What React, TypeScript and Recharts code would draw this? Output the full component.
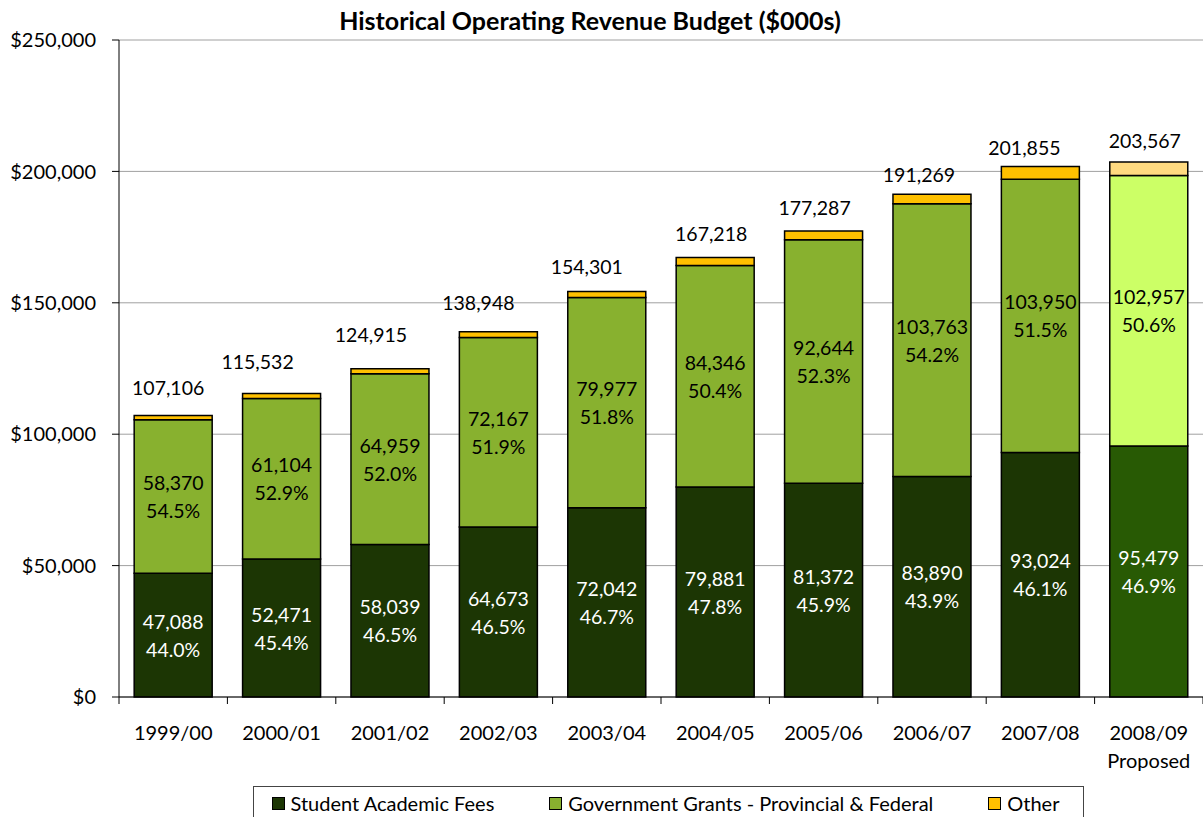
import React from 'react';
import { BarChart, Bar, XAxis, YAxis, CartesianGrid, Legend, LabelList, Cell } from 'recharts';

// ---------- data ----------
const categories = ['1999/00', '2000/01', '2001/02', '2002/03', '2003/04', '2004/05', '2005/06', '2006/07', '2007/08', '2008/09'];
const categorySubLabels = ['', '', '', '', '', '', '', '', '', 'Proposed'];
const studentFees = [47088, 52471, 58039, 64673, 72042, 79881, 81372, 83890, 93024, 95479];
const govGrants = [58370, 61104, 64959, 72167, 79977, 84346, 92644, 103763, 103950, 102957];
const otherRevenue = [1648, 1957, 1917, 2108, 2282, 2991, 3271, 3616, 4881, 5131];
const totals = [107106, 115532, 124915, 138948, 154301, 167218, 177287, 191269, 201855, 203567];
const studentPct = ['44.0%', '45.4%', '46.5%', '46.5%', '46.7%', '47.8%', '45.9%', '43.9%', '46.1%', '46.9%'];
const govPct = ['54.5%', '52.9%', '52.0%', '51.9%', '51.8%', '50.4%', '52.3%', '54.2%', '51.5%', '50.6%'];
const yTicks = [0, 50000, 100000, 150000, 200000, 250000];
const seriesNames = ['Student Academic Fees', 'Government Grants - Provincial & Federal', 'Other'];

// ---------- styles ----------
const FONT = "Lato, 'Open Sans', sans-serif";
const FS = 20;
const FS_IN = 19.5;
const CHART_W = 1203;
const CHART_H = 817;
const Y_AXIS_W = 119;
const HALF_BAND = (CHART_W - Y_AXIS_W) / categories.length / 2;
const COLORS = { student: '#1c3604', gov: '#88b12f', other: '#ffc000' };
const PROPOSED = { student: '#285a04', gov: '#ccff66', other: '#ffda80' };
// hand-placed total label nudges (dx, dy above the bar top)
const TOTAL_LABEL_DX = [-5, -24, -19, -20, -20, -4, -9, -13, -16, -4];
const TOTAL_LABEL_DY = [28, 32, 34, 29, 25, 24, 24, 20, 19, 22];

const data = categories.map((c, i) => ({
  category: c,
  student: studentFees[i],
  gov: govGrants[i],
  other: otherRevenue[i],
  total: totals[i],
}));

const fmt = (v: number) => v.toLocaleString('en-US');
const isProposed = (i: number) => i === categories.length - 1;

const makeInner = (values: number[], pcts: string[], color: string) => (props: any) => {
  const { x, y, width, height, index } = props;
  const cx = Number(x) + Number(width) / 2;
  const cy = Number(y) + Number(height) / 2;
  return (
    <g>
      <text x={cx} y={cy - 14} textAnchor="middle" dominantBaseline="central" fill={color} fontSize={FS_IN} fontFamily={FONT}>
        {fmt(values[index])}
      </text>
      <text x={cx} y={cy + 14} textAnchor="middle" dominantBaseline="central" fill={color} fontSize={FS_IN} fontFamily={FONT}>
        {pcts[index]}
      </text>
    </g>
  );
};

const TotalLabel = (props: any) => {
  const { x, y, width, index } = props;
  const cx = Number(x) + Number(width) / 2 + TOTAL_LABEL_DX[index];
  return (
    <text x={cx} y={Number(y) - TOTAL_LABEL_DY[index]} textAnchor="middle" dominantBaseline="central" fill="#000" fontSize={FS_IN} fontFamily={FONT}>
      {fmt(totals[index])}
    </text>
  );
};

const XTick = (props: any) => {
  const { x, y, payload } = props;
  const index = payload?.index ?? props.index;
  const sub = categorySubLabels[index];
  return (
    <g>
      <line x1={x - HALF_BAND} x2={x - HALF_BAND} y1={y} y2={y + 7} stroke="#000" strokeWidth={1} />
      {index === categories.length - 1 && (
        <line x1={x + HALF_BAND} x2={x + HALF_BAND} y1={y} y2={y + 7} stroke="#000" strokeWidth={1} />
      )}
      <text x={x} y={y + 35} textAnchor="middle" dominantBaseline="central" fill="#000" fontSize={FS} fontFamily={FONT}>
        {payload.value}
      </text>
      {sub ? (
        <text x={x} y={y + 63} textAnchor="middle" dominantBaseline="central" fill="#000" fontSize={FS} fontFamily={FONT}>
          {sub}
        </text>
      ) : null}
    </g>
  );
};

const LegendBox = () => {
  const swatches = [COLORS.student, COLORS.gov, COLORS.other];
  return (
    <div
      style={{
        boxSizing: 'border-box',
        width: 831,
        height: 40,
        border: '1px solid #444',
        background: '#fff',
        display: 'flex',
        alignItems: 'center',
        justifyContent: 'center',
        gap: 55,
        paddingBottom: 6,
        paddingRight: 6,
        fontFamily: FONT,
        fontSize: FS,
        color: '#000',
      }}
    >
      {seriesNames.map((n, i) => (
        <div key={n} style={{ display: 'flex', alignItems: 'center', whiteSpace: 'nowrap' }}>
          <span
            style={{
              display: 'inline-block',
              width: 11,
              height: 11,
              background: swatches[i],
              border: '1px solid #000',
              marginRight: 6,
            }}
          />
          <span>{n}</span>
        </div>
      ))}
    </div>
  );
};

export default function App() {
  return (
    <div style={{ position: 'fixed', left: 0, top: 0, width: CHART_W, height: CHART_H, overflow: 'hidden', background: '#fff' }}>
      <div
        style={{
          position: 'absolute',
          left: 0,
          top: 5,
          width: 1180,
          textAlign: 'center',
          fontFamily: FONT,
          fontWeight: 'bold',
          fontSize: 25,
          color: '#000',
          lineHeight: '30px',
        }}
      >
        Historical Operating Revenue Budget ($000s)
      </div>
      <BarChart
        width={CHART_W}
        height={CHART_H}
        data={data}
        margin={{ top: 40, right: 0, bottom: 40, left: 0 }}
        barCategoryGap="14%"
      >
        <CartesianGrid vertical={false} stroke="#a0a0a0" strokeWidth={1} />
        <XAxis
          dataKey="category"
          height={80}
          interval={0}
          tickSize={0}
          tickMargin={0}
          tickLine={false}
          axisLine={{ stroke: '#000', strokeWidth: 1 }}
          tick={XTick}
        />
        <YAxis
          width={Y_AXIS_W}
          domain={[0, 250000]}
          ticks={yTicks}
          interval={0}
          tickSize={7}
          tickMargin={16}
          axisLine={{ stroke: '#000', strokeWidth: 1 }}
          tickLine={{ stroke: '#000', strokeWidth: 1 }}
          tick={{ fill: '#000', fontSize: FS, fontFamily: FONT }}
          tickFormatter={(v: number) => '$' + fmt(v)}
        />
        <Legend
          layout="horizontal"
          verticalAlign="middle"
          align="center"
          wrapperStyle={{ left: 253, top: 786, width: 831, height: 40 }}
          content={() => <LegendBox />}
        />
        <Bar dataKey="student" stackId="a" name={seriesNames[0]} fill={COLORS.student} stroke="#000" strokeWidth={1.5} isAnimationActive={false}>
          {data.map((d, i) => (
            <Cell key={d.category} fill={isProposed(i) ? PROPOSED.student : COLORS.student} />
          ))}
          <LabelList dataKey="student" content={makeInner(studentFees, studentPct, '#ffffff')} />
        </Bar>
        <Bar dataKey="gov" stackId="a" name={seriesNames[1]} fill={COLORS.gov} stroke="#000" strokeWidth={1.5} isAnimationActive={false}>
          {data.map((d, i) => (
            <Cell key={d.category} fill={isProposed(i) ? PROPOSED.gov : COLORS.gov} />
          ))}
          <LabelList dataKey="gov" content={makeInner(govGrants, govPct, '#000000')} />
        </Bar>
        <Bar dataKey="other" stackId="a" name={seriesNames[2]} fill={COLORS.other} stroke="#000" strokeWidth={1.5} isAnimationActive={false}>
          {data.map((d, i) => (
            <Cell key={d.category} fill={isProposed(i) ? PROPOSED.other : COLORS.other} />
          ))}
          <LabelList dataKey="total" content={TotalLabel} />
        </Bar>
      </BarChart>
    </div>
  );
}
